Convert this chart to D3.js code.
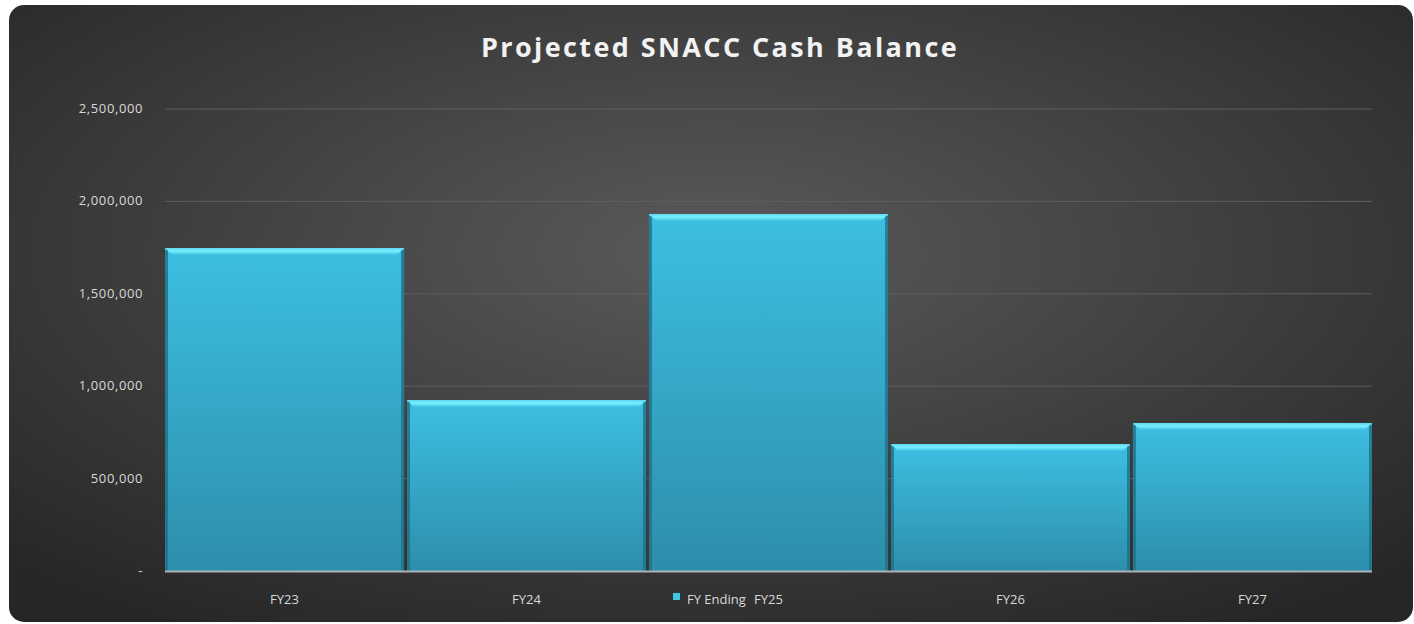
<!DOCTYPE html>
<html>
<head>
<meta charset="utf-8">
<script src="https://cdn.jsdelivr.net/npm/d3@7"></script>
<style>
  body { margin: 0; background: #fff; }
  svg { display: block; }
</style>
</head>
<body>
<svg id="chart" width="1414" height="624"></svg>
<script>
// Chart data
const years = ["FY23", "FY24", "FY25", "FY26", "FY27"];
const cashBalance = [1748000, 925000, 1932000, 687000, 801000];
const yTicks = [0, 500000, 1000000, 1500000, 2000000, 2500000];
const seriesName = "FY Ending";

const width = 1414, height = 624;
const margin = { top: 109, right: 42, bottom: 53, left: 165 };

const svg = d3.select("#chart");
const defs = svg.append("defs");

// background gradient, lighter in the middle
const bg = defs.append("radialGradient")
    .attr("id", "bg")
    .attr("cx", "50%").attr("cy", "40%")
    .attr("r", "72%");
bg.append("stop").attr("offset", "0%").attr("stop-color", "#5a5a5a");
bg.append("stop").attr("offset", "100%").attr("stop-color", "#262626");

const barGrad = defs.append("linearGradient")
    .attr("id", "barGrad")
    .attr("x1", "0").attr("y1", "0").attr("x2", "0").attr("y2", "1");
barGrad.append("stop").attr("offset", "0%").attr("stop-color", "#3dbfe2");
barGrad.append("stop").attr("offset", "100%").attr("stop-color", "#2d8eab");

const topGrad = defs.append("linearGradient")
    .attr("id", "topGrad")
    .attr("x1", "0").attr("y1", "0").attr("x2", "0").attr("y2", "1");
topGrad.append("stop").attr("offset", "0%").attr("stop-color", "#5fd8f0");
topGrad.append("stop").attr("offset", "45%").attr("stop-color", "#78f0ff");
topGrad.append("stop").attr("offset", "100%").attr("stop-color", "#3dbfe2");

svg.append("rect")
    .attr("x", 9).attr("y", 5)
    .attr("width", 1404).attr("height", 617)
    .attr("rx", 15)
    .attr("fill", "url(#bg)");

svg.append("text")
    .attr("x", 720).attr("y", 57)
    .attr("text-anchor", "middle")
    .attr("fill", "#f2f2f2")
    .style("font-family", "'Open Sans', sans-serif")
    .style("font-weight", "bold")
    .style("font-size", "27px")
    .style("letter-spacing", "2.4px")
    .text("Projected SNACC Cash Balance");

const x = d3.scaleBand()
    .domain(years)
    .range([margin.left, width - margin.right])
    .paddingInner(0.012)
    .paddingOuter(0);

const y = d3.scaleLinear()
    .domain([0, 2500000])
    .range([height - margin.bottom, margin.top]);

// gridlines
svg.append("g")
    .selectAll("line")
    .data(yTicks.slice(1))
    .join("line")
    .attr("x1", margin.left).attr("x2", width - margin.right)
    .attr("y1", d => y(d)).attr("y2", d => y(d))
    .attr("stroke", "#5e5e5e")
    .attr("stroke-width", 1);

// y axis labels
const fmt = d3.format(",");
svg.append("g")
    .selectAll("text")
    .data(yTicks)
    .join("text")
    .attr("x", 143)
    .attr("y", d => y(d) + 4)
    .attr("text-anchor", "end")
    .attr("fill", "#d9d9d9")
    .style("font-family", "'Open Sans', sans-serif")
    .style("font-size", "13px")
    .style("letter-spacing", "0.6px")
    .text(d => d === 0 ? "-" : fmt(d));

// bars
const bars = svg.append("g")
    .selectAll("g")
    .data(years)
    .join("g");

bars.append("rect")
    .attr("x", d => x(d))
    .attr("y", (d, i) => y(cashBalance[i]))
    .attr("width", x.bandwidth())
    .attr("height", (d, i) => y(0) - y(cashBalance[i]))
    .attr("fill", "url(#barGrad)");

// bevel: darker sides, bright chamfered top edge
bars.append("rect")
    .attr("x", d => x(d))
    .attr("y", (d, i) => y(cashBalance[i]) + 2)
    .attr("width", 3)
    .attr("height", (d, i) => y(0) - y(cashBalance[i]) - 2)
    .attr("fill", "#1f6f86")
    .attr("opacity", 0.8);
bars.append("rect")
    .attr("x", d => x(d) + x.bandwidth() - 3)
    .attr("y", (d, i) => y(cashBalance[i]) + 2)
    .attr("width", 3)
    .attr("height", (d, i) => y(0) - y(cashBalance[i]) - 2)
    .attr("fill", "#1f6f86")
    .attr("opacity", 0.8);
bars.append("path")
    .attr("d", (d, i) => {
        const x0 = x(d), x1 = x(d) + x.bandwidth(), t = y(cashBalance[i]);
        return `M${x0},${t}L${x1},${t}L${x1 - 7},${t + 7}L${x0 + 7},${t + 7}Z`;
    })
    .attr("fill", "url(#topGrad)");

// baseline
svg.append("line")
    .attr("x1", margin.left).attr("x2", width - margin.right)
    .attr("y1", y(0) + 0.5).attr("y2", y(0) + 0.5)
    .attr("stroke", "#a9b4b8")
    .attr("stroke-width", 2);

// x labels
svg.append("g")
    .selectAll("text")
    .data(years)
    .join("text")
    .attr("x", d => x(d) + x.bandwidth() / 2)
    .attr("y", 604)
    .attr("text-anchor", "middle")
    .attr("fill", "#d9d9d9")
    .style("font-family", "'Open Sans', sans-serif")
    .style("font-size", "13px")
    .text(d => d);

// legend (sits on top of the FY25 label, as in the original)
svg.append("rect")
    .attr("x", 673).attr("y", 593)
    .attr("width", 7).attr("height", 7)
    .attr("fill", "#3fc6e8");
svg.append("text")
    .attr("x", 687).attr("y", 604)
    .attr("fill", "#d9d9d9")
    .style("font-family", "'Open Sans', sans-serif")
    .style("font-size", "13px")
    .text(seriesName);
</script>
</body>
</html>
